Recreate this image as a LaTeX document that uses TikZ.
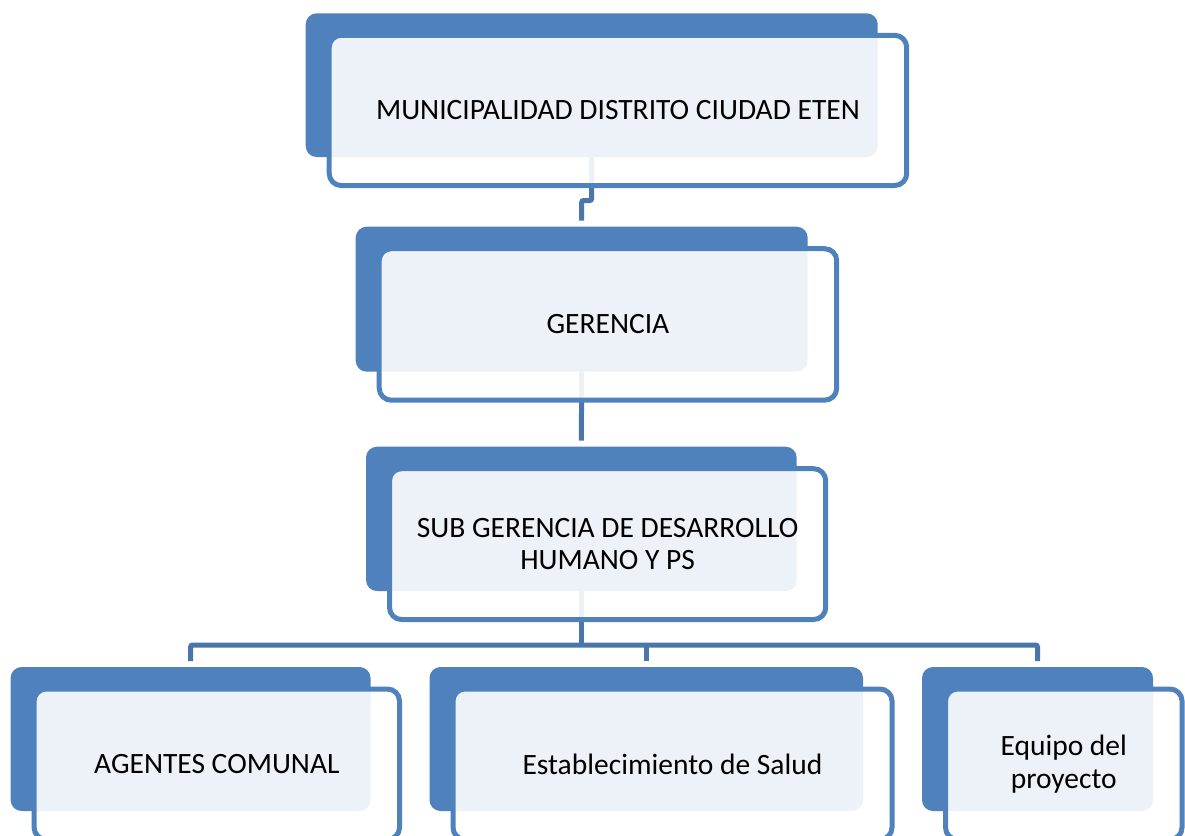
\documentclass[tikz,border=0pt]{standalone}
\usepackage{fontspec}
\setmainfont{Carlito}
\definecolor{boxblue}{HTML}{4F81BD}
\definecolor{linkblue}{HTML}{4A76AC}
\begin{document}
\begin{tikzpicture}[x=1pt,y=-1pt,
  backbox/.style={rectangle, rounded corners=11pt, fill=boxblue, draw=none, inner sep=0pt, outer sep=0pt},
  frontbox/.style={rectangle, rounded corners=12pt, fill=white, fill opacity=0.9, text opacity=1,
     draw=boxblue, draw opacity=1, line width=5pt, inner sep=0pt, outer sep=0pt,
     font=\fontsize{29.5}{32.5}\selectfont, align=center, text=black},
  conn/.style={draw=linkblue, line width=5pt, rounded corners=2pt}]
\useasboundingbox (0,0) rectangle (1185,835);
\clip (0,0) rectangle (1185,835);
\fill[white] (0,0) rectangle (1185,835);

\path
  (591.7,85.15) coordinate (cT)
  (581.7,299.2) coordinate (cG)
  (581.35,518.85) coordinate (cS)
  (190.55,739) coordinate (cA)
  (646.25,739) coordinate (cE)
  (1037.5,739) coordinate (cQ);

% invisible placeholders naming the back boxes for the connectors
\path[inner sep=0pt, outer sep=0pt]
  (cT) node[minimum width=572pt, minimum height=143.7pt] (Tb) {}
  (cG) node[minimum width=452pt, minimum height=145pt] (Gb) {}
  (cS) node[minimum width=430.7pt, minimum height=144.3pt] (Sb) {}
  (cA) node[minimum width=359.9pt, minimum height=144pt] (Ab) {}
  (cE) node[minimum width=433.5pt, minimum height=144pt] (Eb) {}
  (cQ) node[minimum width=231pt, minimum height=144pt] (Qb) {};

% connectors
\coordinate (barlevel) at (0,645);
\coordinate (bar) at (Sb.south |- barlevel);
\draw[conn] (Tb.south) -- ++(0,43.5) -| ([yshift=6pt]Gb.north);
\draw[conn] (Gb.south) -- ([yshift=6pt]Sb.north);
\draw[conn] (Sb.south) -- (bar);
\draw[conn] ([yshift=6pt]Ab.north) |- (bar) -| ([yshift=6pt]Qb.north);
\draw[conn] ([yshift=6pt]Eb.north) -- (Eb.north |- bar);

% boxes
\node[backbox, minimum width=572pt, minimum height=143.7pt] (Tback) at (cT) {};
\node[frontbox, minimum width=577.5pt, minimum height=150.2pt] (Tf) at (617.95,110.4) {MUNICIPALIDAD DISTRITO CIUDAD ETEN};

\node[backbox, minimum width=452pt, minimum height=145pt] (Gback) at (cG) {};
\node[frontbox, minimum width=457.5pt, minimum height=151.5pt] (Gf) at (607.95,324.45) {GERENCIA};

\node[backbox, minimum width=430.7pt, minimum height=144.3pt] (Sback) at (cS) {};
\node[frontbox, minimum width=436.2pt, minimum height=150.8pt] (Sf) at (607.6,544.1) {SUB GERENCIA DE DESARROLLO\\HUMANO Y PS};

\node[backbox, minimum width=359.9pt, minimum height=144pt] (Aback) at (cA) {};
\node[frontbox, minimum width=365.4pt, minimum height=150.5pt] (Af) at (216.8,764.25) {AGENTES COMUNAL};

\node[backbox, minimum width=433.5pt, minimum height=144pt] (Eback) at (cE) {};
\node[frontbox, minimum width=439pt, minimum height=150.5pt] (Ef) at (672.5,764.25) {Establecimiento de Salud};

\node[backbox, minimum width=231pt, minimum height=144pt] (Qback) at (cQ) {};
\node[frontbox, minimum width=236.5pt, minimum height=150.5pt] (Qf) at (1063.75,764.25) {Equipo del\\proyecto};
\end{tikzpicture}
\end{document}
